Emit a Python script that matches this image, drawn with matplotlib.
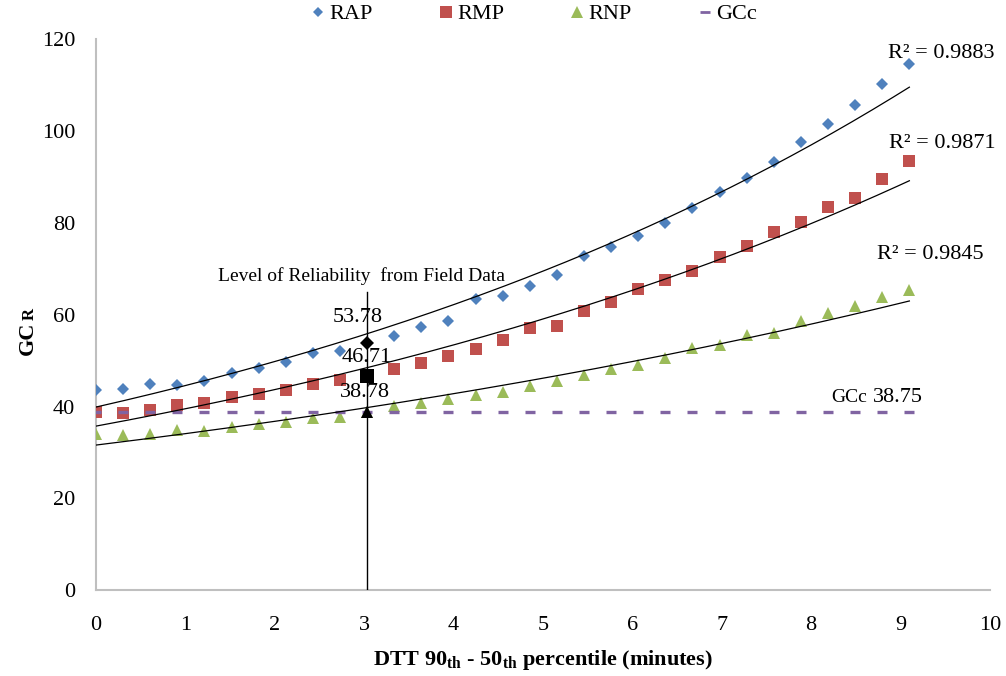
import numpy as np
import matplotlib
matplotlib.use("Agg")
import matplotlib.pyplot as plt
from matplotlib.lines import Line2D

plt.rcParams['font.family'] = ['Liberation Serif', 'DejaVu Serif']
plt.rcParams['mathtext.fontset'] = 'custom'
plt.rcParams['mathtext.rm'] = 'Liberation Serif'
plt.rcParams['mathtext.bf'] = 'Liberation Serif:bold'

# DTT 90th - 50th percentile (minutes), 31 steps
step = 0.3033
x = np.arange(31) * step

rap = [43.7, 43.9, 45.0, 44.7, 45.5, 47.2, 48.4, 49.8, 51.6, 52.0, 53.78,
       55.4, 57.3, 58.6, 63.4, 64.1, 66.3, 68.6, 72.9, 74.8, 77.2, 80.0,
       83.3, 86.7, 89.8, 93.4, 97.7, 101.6, 105.8, 110.3, 114.6]
rmp = [38.8, 38.6, 39.3, 40.4, 40.8, 42.1, 42.8, 43.7, 44.8, 45.8, 46.71,
       48.1, 49.4, 51.1, 52.5, 54.4, 57.2, 57.6, 60.8, 62.7, 65.7, 67.6,
       69.5, 72.6, 75.0, 78.0, 80.3, 83.4, 85.5, 89.6, 93.6]
rnp = [33.9, 33.7, 34.1, 34.8, 34.6, 35.6, 36.1, 36.6, 37.4, 37.7, 38.78,
       40.1, 40.8, 41.7, 42.5, 43.2, 44.4, 45.5, 46.8, 48.1, 49.0, 50.6,
       52.7, 53.3, 55.5, 56.0, 58.6, 60.3, 61.9, 63.9, 65.4]
gcc = 38.75

r2_labels = ["R\u00b2 = 0.9883", "R\u00b2 = 0.9871", "R\u00b2 = 0.9845"]

# field data point
field_x = 3.03
field_vals = [53.78, 46.71, 38.78]
field_top = 65

colors = {'RAP': '#4F81BD', 'RMP': '#C0504D', 'RNP': '#9BBB59', 'GCc': '#8064A2'}

fig = plt.figure(figsize=(10.06, 6.76), dpi=100)
ax = fig.add_axes([0.0954, 0.1272, 0.8886, 0.8144])

ax.plot(x, rap, 'D', ms=6.0, mew=0, color=colors['RAP'], zorder=3)
ax.plot(x, rmp, 's', ms=8.2, mew=0, color=colors['RMP'], zorder=3)
ax.plot(x, rnp, '^', ms=8.2, mew=0, color=colors['RNP'], zorder=3)
ax.plot(x, [gcc] * len(x), '_', ms=7.5, mew=2.4, color=colors['GCc'], zorder=3.5)

# exponential trendlines
xt = np.linspace(0, x[-1], 200)
for ys in (rap, rmp, rnp):
    b, a = np.polyfit(x, np.log(ys), 1)
    ax.plot(xt, np.exp(a) * np.exp(b * xt), color='black', lw=0.9, zorder=4)

# level of reliability from field data
ax.plot([field_x, field_x], [0, field_top], color='black', lw=1, zorder=4)
ax.plot(field_x, field_vals[0], 'D', ms=6.8, mew=0, color='black', zorder=5)
ax.plot(field_x, field_vals[1], 's', ms=10.5, mew=0, color='black', zorder=5)
ax.plot(field_x, field_vals[2], '^', ms=8.6, mew=0, color='black', zorder=5)
ax.text(field_x - 0.1, field_vals[0] + 5.7, f"{field_vals[0]:.2f}", fontsize=16,
        ha='center', va='center', zorder=6)
ax.text(field_x, field_vals[1] + 4.0, f"{field_vals[1]:.2f}", fontsize=16,
        ha='center', va='center', zorder=6)
ax.text(field_x - 0.02, field_vals[2] + 4.3, f"{field_vals[2]:.2f}", fontsize=16,
        ha='center', va='center', zorder=6)
ax.text(2.97, 68.5, "Level of Reliability  from Field Data", fontsize=14,
        ha='center', va='center')

ax.text(8.86, 116.9, r2_labels[0], fontsize=16, ha='left', va='center')
ax.text(8.87, 97.3, r2_labels[1], fontsize=16, ha='left', va='center')
ax.text(8.74, 73.2, r2_labels[2], fontsize=16, ha='left', va='center')
ax.text(8.23, 41.9, "GCc", fontsize=14, ha='left', va='center')
ax.text(8.69, 41.9, f"{gcc:.2f}", fontsize=16, ha='left', va='center')

ax.set_xlim(0, 10)
ax.set_ylim(0, 120)
ax.set_xticks(range(0, 11))
ax.set_yticks(range(0, 121, 20))
ax.tick_params(axis='both', length=0, labelsize=16)
ax.tick_params(axis='x', pad=19)
ax.tick_params(axis='y', pad=15)
for s in ('top', 'right'):
    ax.spines[s].set_visible(False)
for s in ('left', 'bottom'):
    ax.spines[s].set_color('#BFBFBF')
    ax.spines[s].set_linewidth(1.5)

ax.set_xlabel(r"DTT 90$_{\mathbf{th}}$ - 50$_{\mathbf{th}}$ percentile (minutes)",
              fontsize=16, fontweight='bold')
ax.xaxis.set_label_coords(0.5, -0.127, transform=ax.transAxes)
ax.xaxis.label.set_va('center')

# y label: "GC" with a smaller "R"
ax.text(-0.076, 0.458, "GC", fontsize=16, fontweight='bold', rotation=90,
        ha='center', va='center', transform=ax.transAxes)
ax.text(-0.074, 0.502, "R", fontsize=12, fontweight='bold', rotation=90,
        ha='center', va='center', transform=ax.transAxes)

handles = [
    Line2D([], [], ls='', marker='D', ms=5.5, mew=0, color=colors['RAP']),
    Line2D([], [], ls='', marker='s', ms=8, mew=0, color=colors['RMP']),
    Line2D([], [], ls='', marker='^', ms=8, mew=0, color=colors['RNP']),
    Line2D([], [], ls='', marker='_', ms=7, mew=2, color=colors['GCc']),
]
fig.legend(handles, ['RAP', 'RMP', 'RNP', 'GCc'], loc='center', ncol=4,
           bbox_to_anchor=(0.531, 0.979), frameon=False, fontsize=16,
           handlelength=0.6, handletextpad=0.2, columnspacing=3.0)

fig.savefig('out.png', dpi=100)
